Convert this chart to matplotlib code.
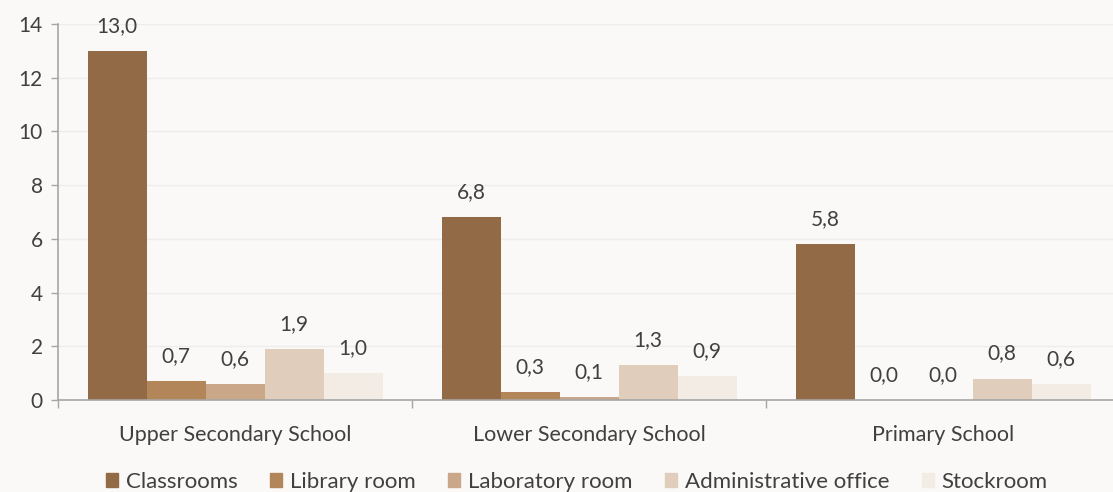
import numpy as np
import matplotlib.pyplot as plt
from matplotlib.patches import Patch

categories = ['Upper Secondary School', 'Lower Secondary School', 'Primary School']
series = ['Classrooms', 'Library room', 'Laboratory room', 'Administrative office', 'Stockroom']
values = [
    [13.0, 6.8, 5.8],
    [0.7, 0.3, 0.0],
    [0.6, 0.1, 0.0],
    [1.9, 1.3, 0.8],
    [1.0, 0.9, 0.6],
]
colors = ['#926A45', '#B38659', '#C9A788', '#E0CDBC', '#F3ECE4']

plt.rcParams['font.family'] = ['Lato', 'DejaVu Sans']
bg = '#FAF9F7'
txt = '#404040'
fig = plt.figure(figsize=(11.13, 4.92), dpi=100, facecolor=bg)
ax = fig.add_axes([58 / 1113, 92 / 492, 1062 / 1113, 376 / 492])
ax.set_facecolor(bg)

x = np.arange(len(categories))
w = 1 / 6
for i, (name, vals) in enumerate(zip(series, values)):
    pos = x - 2 * w + i * w
    ax.bar(pos, vals, width=w, color=colors[i], label=name, zorder=2)
    for p, v in zip(pos, vals):
        ax.annotate(f'{v:.1f}'.replace('.', ','), (p, v), xytext=(0, 18),
                    textcoords='offset points', ha='center', va='center',
                    fontsize=15, color=txt)

ax.set_xlim(-0.5, 2.5)
ax.set_ylim(0, 14)
ax.set_yticks(range(0, 15, 2))
ax.yaxis.grid(True, color='#EEEDEB', linewidth=1, zorder=0)
ax.set_xticks([-0.5, 0.5, 1.5, 2.5])
ax.set_xticklabels([])
ax.set_xticks(x, minor=True)
ax.set_xticklabels(categories, minor=True)
ax.tick_params(axis='x', which='major', length=6, color='#A6A6A6', width=1)
ax.tick_params(axis='x', which='minor', length=0, pad=18, labelsize=15.5, labelcolor=txt)
ax.tick_params(axis='y', length=5, color='#A6A6A6', width=1, labelsize=15, labelcolor=txt, pad=6)
for s in ['top', 'right']:
    ax.spines[s].set_visible(False)
for s in ['left', 'bottom']:
    ax.spines[s].set_color('#A6A6A6')
    ax.spines[s].set_linewidth(1.2)

handles = [Patch(color=c, label=n) for c, n in zip(colors, series)]
fig.legend(handles=handles, loc='center', bbox_to_anchor=(577 / 1113, 1 - 482 / 492),
           ncol=5, frameon=False, fontsize=16, handlelength=0.55, handleheight=0.55,
           handletextpad=0.35, columnspacing=1.45, labelcolor=txt)

fig.savefig('out.png', dpi=100, facecolor=bg)
